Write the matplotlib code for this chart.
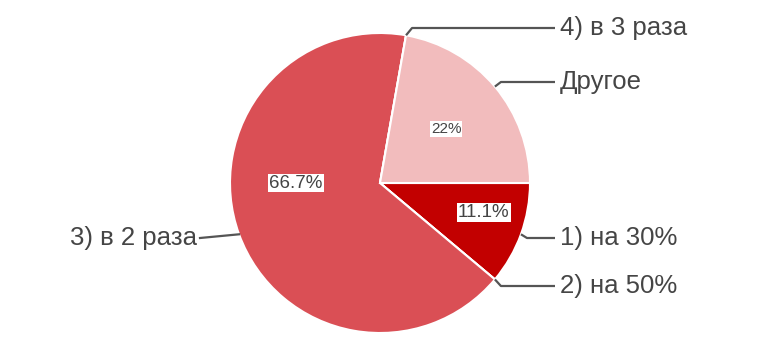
import numpy as np
import matplotlib.pyplot as plt

plt.rcParams["font.family"] = ["Liberation Sans", "DejaVu Sans"]

# ── data ─────────────────────────────────────────────────────────────
categories = ["1) на 30%", "2) на 50%", "3) в 2 раза", "4) в 3 раза", "Другое"]
votes = [1, 0, 6, 0, 2]
pct_labels = ["11.1%", "", "66.7%", "", "22%"]
colors = ["#c20000", "#c20000", "#da4f55", "#da4f55", "#f2bcbd"]

# label layout (pixel coords, y measured from top)
label_y = [238, 286, 238, 28, 82]
label_side = ["r", "r", "l", "r", "r"]
pct_dist = [0.72, 0, 0.56, 0, 0.57]
pct_angle_shift = [4, 0, -20, 0, -1]   # degrees, nudges inside labels
pct_size = [13.5, 0, 13.5, 0, 11]

W, H = 772, 360
CX, CY, R = 380, 177, 150

fig = plt.figure(figsize=(W / 100, H / 100), dpi=100)
ax = fig.add_axes([0, 0, 1, 1])

wedges, _ = ax.pie(votes, colors=colors, startangle=0, counterclock=False,
                   center=(CX, CY), radius=R, frame=True,
                   wedgeprops=dict(edgecolor="white", linewidth=1.5))
ax.set_xlim(0, W)
ax.set_ylim(0, H)
ax.set_aspect("equal")
ax.axis("off")

total = sum(votes)
angle = 0.0
for i, v in enumerate(votes):
    span = 360.0 * v / total
    mid_deg = angle - span / 2
    angle -= span
    mid = np.deg2rad(mid_deg)

    # percentage label inside the slice
    if pct_labels[i]:
        d = pct_dist[i] * R
        a = np.deg2rad(mid_deg + pct_angle_shift[i])
        ax.text(CX + d * np.cos(a), CY + d * np.sin(a), pct_labels[i],
                ha="center", va="center", fontsize=pct_size[i], color="#444444",
                bbox=dict(boxstyle="square,pad=0.05", fc="white", ec="none"))

    # leader line and category label
    sx, sy = CX + R * np.cos(mid), CY + R * np.sin(mid)
    ty = H - label_y[i]
    if label_side[i] == "r":
        ex = sx + 6 if abs(ty - sy) > 3 else sx + 2
        ax.plot([sx, ex, 555], [sy, ty, ty], color="#555555", lw=1.6,
                solid_capstyle="butt")
        ax.text(560, ty, categories[i], ha="left", va="center",
                fontsize=18.5, color="#454545")
    else:
        ax.plot([sx, 200], [sy, ty], color="#555555", lw=1.6)
        ax.text(197, ty, categories[i], ha="right", va="center",
                fontsize=18.5, color="#454545")

fig.savefig("out.png", dpi=100)
